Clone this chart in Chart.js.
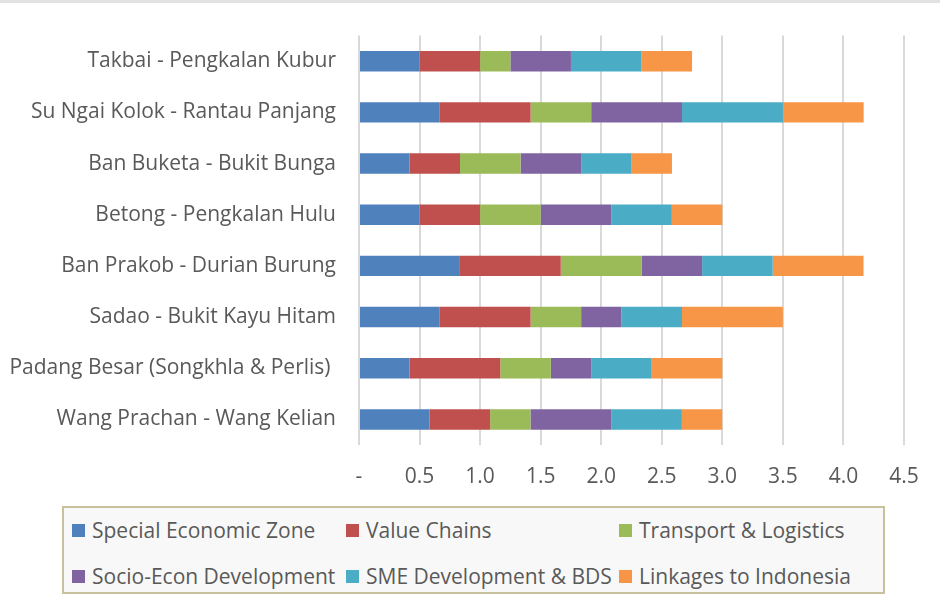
<!DOCTYPE html>
<html>
<head>
<meta charset="utf-8">
<script src="https://cdn.jsdelivr.net/npm/chart.js@4/dist/chart.umd.min.js"></script>
<style>
    body { margin: 0; background: #fff; }
    .wrap { position: relative; width: 940px; height: 604px; overflow: hidden; }
    .topstrip { position: absolute; left: 0; top: 0; width: 940px; height: 3px; background: #e2e2e2; }
    .legend {
        position: absolute; left: 62px; top: 506px; width: 819px; height: 84px;
        border: 2px solid #c8c19c; background: #f8f8f8;
        font-family: 'Open Sans', sans-serif; font-size: 21px; color: #595959;
    }
    .legend .item { position: absolute; white-space: nowrap; height: 30px; }
    .legend .box { position: absolute; left: 0; top: 9px; width: 13px; height: 13px; }
    .legend .txt { position: absolute; left: 20px; top: 0; line-height: 30px; }
</style>
</head>
<body>
<div class="wrap">
    <canvas id="chart" width="940" height="604"></canvas>
    <div class="topstrip"></div>
    <div class="legend" id="legend"></div>
</div>
<script>
const categories = [
    'Takbai - Pengkalan Kubur',
    'Su Ngai Kolok - Rantau Panjang',
    'Ban Buketa - Bukit Bunga',
    'Betong - Pengkalan Hulu',
    'Ban Prakob - Durian Burung',
    'Sadao - Bukit Kayu Hitam',
    'Padang Besar (Songkhla & Perlis) ',
    'Wang Prachan - Wang Kelian'
];

const seriesNames = [
    'Special Economic Zone',
    'Value Chains',
    'Transport & Logistics',
    'Socio-Econ Development',
    'SME Development & BDS',
    'Linkages to Indonesia'
];

const specialEconomicZone = [0.5, 0.667, 0.417, 0.5, 0.833, 0.667, 0.417, 0.583];
const valueChains = [0.5, 0.75, 0.417, 0.5, 0.833, 0.75, 0.75, 0.5];
const transportLogistics = [0.25, 0.5, 0.5, 0.5, 0.667, 0.417, 0.417, 0.333];
const socioEconDevelopment = [0.5, 0.75, 0.5, 0.583, 0.5, 0.333, 0.333, 0.667];
const smeDevelopment = [0.583, 0.833, 0.417, 0.5, 0.583, 0.5, 0.5, 0.583];
const linkagesIndonesia = [0.417, 0.667, 0.333, 0.417, 0.75, 0.833, 0.583, 0.333];

const xTicks = [0, 0.5, 1.0, 1.5, 2.0, 2.5, 3.0, 3.5, 4.0, 4.5];

const colors = ['#4f81bd', '#c0504d', '#9bbb59', '#8064a2', '#4bacc6', '#f79646'];
const values = [specialEconomicZone, valueChains, transportLogistics, socioEconDevelopment, smeDevelopment, linkagesIndonesia];

Chart.defaults.font.family = "'Open Sans', sans-serif";
Chart.defaults.color = '#595959';

const chart = new Chart(document.getElementById('chart'), {
    type: 'bar',
    data: {
        labels: categories,
        datasets: seriesNames.map((name, i) => ({
            label: name,
            data: values[i],
            backgroundColor: colors[i],
            barPercentage: 0.4,
            categoryPercentage: 1.0
        }))
    },
    options: {
        indexAxis: 'y',
        responsive: false,
        animation: false,
        layout: { padding: { top: 31, right: 36, left: 0, bottom: 0 } },
        plugins: {
            legend: { display: false },
            tooltip: { enabled: false }
        },
        scales: {
            x: {
                stacked: true,
                min: 0,
                max: 4.5,
                afterBuildTicks: (scale) => { scale.ticks = xTicks.map(v => ({ value: v })); },
                afterFit: (scale) => { scale.height = 159; },
                ticks: {
                    font: { size: 21 },
                    color: '#595959',
                    padding: 19,
                    callback: (v) => v === 0 ? '-' : Number(v).toFixed(1)
                },
                grid: { color: '#d9d9d9', lineWidth: 2, drawTicks: false },
                border: { display: false }
            },
            y: {
                stacked: true,
                afterFit: (scale) => { scale.width = 359; },
                ticks: {
                    font: { size: 21 },
                    color: '#595959',
                    padding: 23
                },
                grid: { display: false, drawTicks: false },
                border: { display: false }
            }
        }
    }
});

// legend laid out in a 3-column grid like the original
const legendEl = document.getElementById('legend');
const colX = [8, 282, 555];
const rowY = [7, 53];
chart.data.datasets.forEach((ds, i) => {
    const item = document.createElement('div');
    item.className = 'item';
    item.style.left = colX[i % 3] + 'px';
    item.style.top = rowY[Math.floor(i / 3)] + 'px';
    item.innerHTML = `<span class="box" style="background:${ds.backgroundColor}"></span><span class="txt">${ds.label.replace('&', '&amp;')}</span>`;
    legendEl.appendChild(item);
});
</script>
</body>
</html>
